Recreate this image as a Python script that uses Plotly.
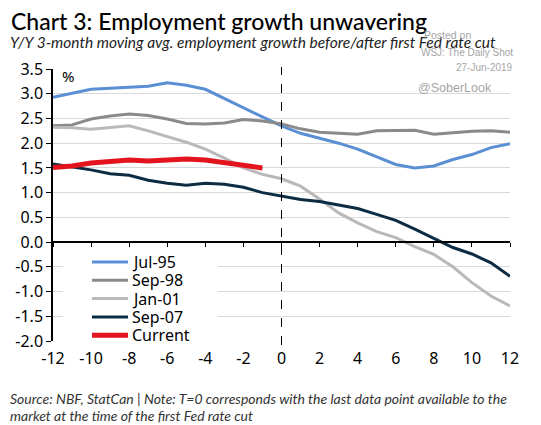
import plotly.graph_objects as go

# months relative to the first Fed rate cut
months = list(range(-12, 13))
months_current = list(range(-12, 0))

jul95 = [2.93, 3.01, 3.09, 3.11, 3.13, 3.15, 3.22, 3.17, 3.09, 2.90, 2.72, 2.53, 2.35,
         2.20, 2.10, 2.00, 1.88, 1.73, 1.57, 1.50, 1.54, 1.67, 1.77, 1.91, 1.99]
sep98 = [2.35, 2.37, 2.49, 2.55, 2.59, 2.56, 2.49, 2.40, 2.39, 2.41, 2.48, 2.45, 2.39,
         2.29, 2.22, 2.20, 2.18, 2.25, 2.25, 2.26, 2.18, 2.21, 2.24, 2.25, 2.22]
jan01 = [2.32, 2.31, 2.28, 2.32, 2.35, 2.25, 2.14, 2.02, 1.88, 1.70, 1.50, 1.37, 1.28,
         1.13, 0.87, 0.59, 0.39, 0.21, 0.09, -0.09, -0.25, -0.50, -0.82, -1.09, -1.29]
sep07 = [1.58, 1.52, 1.46, 1.38, 1.35, 1.25, 1.19, 1.15, 1.19, 1.17, 1.11, 1.00, 0.93,
         0.86, 0.82, 0.75, 0.68, 0.56, 0.44, 0.26, 0.07, -0.11, -0.24, -0.42, -0.69]
current = [1.51, 1.54, 1.60, 1.62, 1.66, 1.64, 1.67, 1.68, 1.66, 1.61, 1.56, 1.50]

x_ticks = list(range(-12, 13, 2))
y_ticks = [3.5, 3.0, 2.5, 2.0, 1.5, 1.0, 0.5, 0.0, -0.5, -1.0, -1.5, -2.0]

FONT = "Noto Sans"
L, T, W, H = 53, 69, 457, 272   # plot area as seen on screen (pixels)
OFF = 8                          # page offset of the figure div


def px(x):
    return (x - L) / W


def py(y):
    return (T + H - y) / H


fig = go.Figure()
series = [("Jul-95", months, jul95, "#5b8fd4", 3),
          ("Sep-98", months, sep98, "#8a8a8a", 3),
          ("Jan-01", months, jan01, "#b9b9b9", 3),
          ("Sep-07", months, sep07, "#0c2c44", 3),
          ("Current", months_current, current, "#e3141e", 5)]
for name, xs, ys, col, w in series:
    fig.add_trace(go.Scatter(x=xs, y=ys, name=name, mode="lines",
                             line=dict(color=col, width=w), showlegend=False))

# dummy trace to activate the zero-line axis
fig.add_trace(go.Scatter(x=[-12, 12], y=[None, None], xaxis="x2", showlegend=False,
                         hoverinfo="skip"))

# dashed line at T=0
fig.add_shape(type="line", xref="x", yref="paper", x0=0, x1=0, y0=py(345), y1=py(67),
              line=dict(color="black", width=1, dash="dash"))

# legend box (white, hides gridlines) and entries
fig.add_shape(type="rect", xref="paper", yref="paper", x0=px(63), x1=px(218),
              y0=py(346), y1=py(252), fillcolor="white", line=dict(width=0), layer="above")
for i, (name, xs, ys, col, w) in enumerate(series):
    yy = py(262 + i * 18.3)
    fig.add_shape(type="line", xref="paper", yref="paper", x0=px(92), x1=px(128),
                  y0=yy, y1=yy, line=dict(color=col, width=w), layer="above")
    fig.add_annotation(text=name, xref="paper", yref="paper", x=px(130), y=yy,
                       xanchor="left", yanchor="middle", showarrow=False,
                       font=dict(family=FONT, size=16, color="black"))

fig.update_layout(
    width=541, height=425,
    margin=dict(l=L - OFF, r=541 - L - W + OFF, t=T - OFF, b=425 - T - H + OFF),
    paper_bgcolor="white", plot_bgcolor="white",
    font=dict(family=FONT, size=16, color="black"),
    showlegend=False,
    xaxis=dict(range=[-12, 12], tickvals=x_ticks, ticktext=[str(v) for v in x_ticks],
               showgrid=False, zeroline=False, showline=False, ticks="",
               tickfont=dict(size=16), automargin=False, ticklabelstandoff=6),
    xaxis2=dict(range=[-12, 12], tickvals=x_ticks, overlaying="x", anchor="free",
                position=2 / 5.5, showline=True, linecolor="black", linewidth=1.5,
                ticks="outside", ticklen=4, tickcolor="black", showticklabels=False,
                showgrid=False, zeroline=False, automargin=False),
    yaxis=dict(range=[-2, 3.5], tickvals=y_ticks, ticktext=[f"{v:.1f}" for v in y_ticks],
               showgrid=True, gridcolor="#d9d9d9", gridwidth=1, zeroline=False,
               showline=True, linecolor="black", linewidth=1.5, automargin=False,
               ticks="outside", ticklen=5, tickcolor="black", tickfont=dict(size=16)),
)

texts = [
    ("Chart 3: Employment growth unwavering", 9, 5, 23, "black", "normal", 500),
    ("Y/Y 3-month moving avg. employment growth before/after first Fed rate cut",
     8, 31, 15.5, "#222222", "italic", 400),
    ("Source: NBF, StatCan | Note: T=0 corresponds with the last data point available to the",
     8, 388, 14, "#333333", "italic", 400),
    ("market at the time of the first Fed rate cut", 8, 405, 14, "#333333", "italic", 400),
]
for txt, x0, y0, sz, col, st, wt in texts:
    fig.add_annotation(text=txt, xref="paper", yref="paper", x=px(x0), y=py(y0),
                       xanchor="left", yanchor="top", showarrow=False,
                       font=dict(family="Lato", size=sz, color=col, style=st, weight=wt))

# watermark
marks = [("Posted on", 447, 35, 10.5), ("WSJ: The Daily Shot", 467, 52, 10),
         ("27-Jun-2019", 484, 67, 10), ("@SoberLook", 455, 88, 12.5)]
for txt, x0, y0, sz in marks:
    fig.add_annotation(text=txt, xref="paper", yref="paper", x=px(x0), y=py(y0),
                       xanchor="center", yanchor="middle", showarrow=False,
                       font=dict(family="Liberation Sans", size=sz, color="#a6a6a6"))

fig.add_annotation(text="%", xref="paper", yref="paper", x=px(68), y=py(76),
                   xanchor="center", yanchor="middle", showarrow=False,
                   font=dict(family=FONT, size=15))

fig.write_html("out.html")
